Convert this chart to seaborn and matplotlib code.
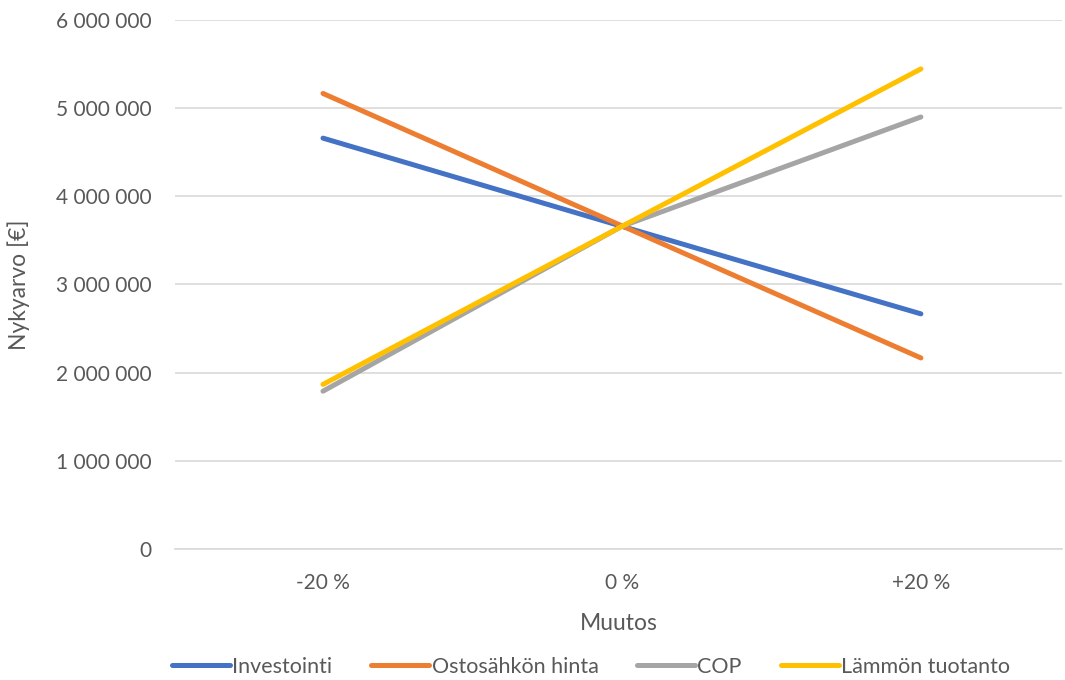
import matplotlib
matplotlib.use("Agg")
import matplotlib.pyplot as plt
import seaborn as sns
import pandas as pd
from matplotlib.ticker import FuncFormatter, MultipleLocator

categories = ["-20 %", "0 %", "+20 %"]
investointi = [4660000, 3660000, 2667000]
ostosahko = [5167000, 3665000, 2167000]
cop = [1790000, 3660000, 4900000]
lammon = [1867000, 3660000, 5445000]

series_names = ["Investointi", "Ostosähkön hinta", "COP", "Lämmön tuotanto"]
colors = ["#4472c4", "#ed7d31", "#a5a5a5", "#ffc000"]

rows = []
for name, vals in zip(series_names, [investointi, ostosahko, cop, lammon]):
    for i, (c, v) in enumerate(zip(categories, vals)):
        rows.append({"Muutos": i, "Nykyarvo": v, "Sarja": name})
df = pd.DataFrame(rows)

sns.set_theme(style="white")
plt.rcParams["font.family"] = ["Lato", "DejaVu Sans"]

fig = plt.figure(figsize=(10.65, 6.8), dpi=100)
ax = fig.add_axes([175 / 1065, 1 - 549 / 680, 887 / 1065, 529 / 680])

sns.lineplot(data=df, x="Muutos", y="Nykyarvo", hue="Sarja", hue_order=series_names,
             palette=colors, linewidth=3.6, ax=ax, legend=True, sort=False)
for ln in ax.lines:
    ln.set_solid_capstyle("round")

ax.set_xlim(-0.495, 2.472)
ax.set_ylim(0, 6000000)
ax.yaxis.set_major_locator(MultipleLocator(1000000))
ax.yaxis.set_major_formatter(FuncFormatter(lambda v, p: f"{int(v):,}".replace(",", " ")))
ax.set_xticks(range(len(categories)))
ax.set_xticklabels(categories)

ax.grid(axis="y", color="#d9d9d9", linewidth=1.2)
ax.grid(axis="x", visible=False)
ax.set_axisbelow(True)
for s in ["top", "right", "left"]:
    ax.spines[s].set_visible(False)
ax.spines["bottom"].set_color("#d9d9d9")
ax.spines["bottom"].set_linewidth(1.2)

ax.tick_params(axis="both", colors="#595959", labelsize=15, length=0, pad=17)
ax.set_xlabel("Muutos", fontsize=16.5, color="#595959")
ax.set_ylabel("Nykyarvo [€]", fontsize=16.5, color="#595959")
ax.yaxis.set_label_coords(-0.163, 0.5)
ax.xaxis.set_label_coords(0.5, -0.121)

handles, labels = ax.get_legend_handles_labels()
leg = fig.legend(handles, labels, loc="center", bbox_to_anchor=(591 / 1065, 1 - 667 / 680),
                 ncol=4, frameon=False, fontsize=15.5, handlelength=2.7, handletextpad=0.1,
                 columnspacing=1.8, labelcolor="#595959")
if ax.get_legend():
    ax.get_legend().remove()
for lh in leg.get_lines():
    lh.set_linewidth(3.6)
    lh.set_solid_capstyle("round")

fig.savefig("out.png", dpi=100)
